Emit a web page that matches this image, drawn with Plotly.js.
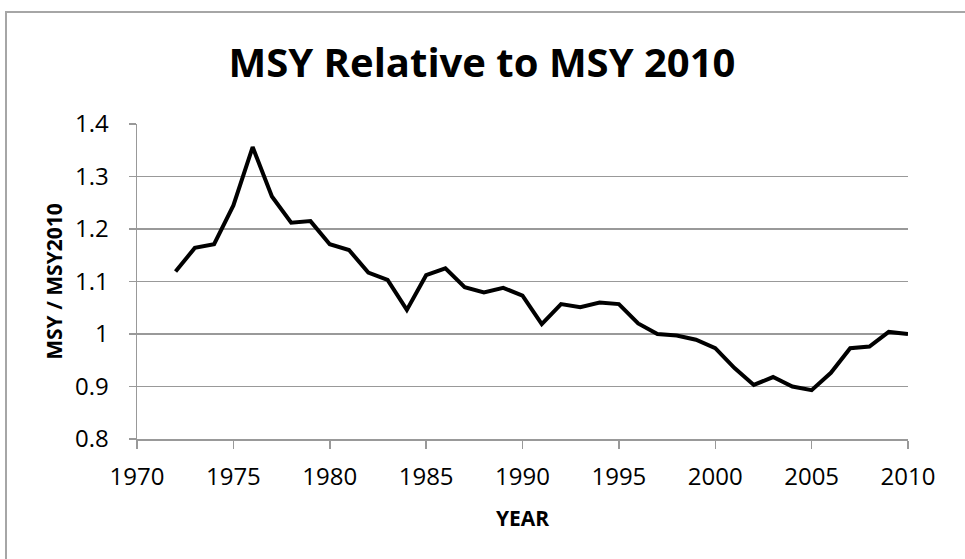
<!DOCTYPE html>
<html>
<head>
<meta charset="utf-8">
<script src="https://cdn.plot.ly/plotly-3.0.1.min.js"></script>
<style>
  html, body { margin: 0; padding: 0; background: #ffffff; overflow: hidden; }
  #chart { position: absolute; left: 0; top: 0; width: 965px; height: 559px; }
  #frame { position: absolute; left: 5px; top: 11px; width: 1200px; height: 800px;
           border-left: 2px solid #a6a6a6; border-top: 2px solid #a6a6a6; pointer-events: none; }
</style>
</head>
<body>
<div id="chart"></div>
<div id="frame"></div>
<script>
// Data
const years = [1972, 1973, 1974, 1975, 1976, 1977, 1978, 1979, 1980, 1981,
               1982, 1983, 1984, 1985, 1986, 1987, 1988, 1989, 1990, 1991,
               1992, 1993, 1994, 1995, 1996, 1997, 1998, 1999, 2000, 2001,
               2002, 2003, 2004, 2005, 2006, 2007, 2008, 2009, 2010];
const msyRatio = [1.119, 1.164, 1.171, 1.245, 1.356, 1.262, 1.212, 1.215, 1.171, 1.160,
                  1.117, 1.103, 1.046, 1.112, 1.125, 1.089, 1.079, 1.088, 1.073, 1.019,
                  1.057, 1.051, 1.060, 1.057, 1.020, 1.000, 0.997, 0.989, 0.973, 0.935,
                  0.903, 0.918, 0.900, 0.893, 0.926, 0.973, 0.976, 1.004, 1.000];
const xTicks = [1970, 1975, 1980, 1985, 1990, 1995, 2000, 2005, 2010];
const yTicks = [0.8, 0.9, 1.0, 1.1, 1.2, 1.3, 1.4];
const yTickText = ["0.8", "0.9", "1", "1.1", "1.2", "1.3", "1.4"];

const trace = {
  x: years,
  y: msyRatio,
  type: 'scatter',
  mode: 'lines',
  line: { color: '#000000', width: 4 },
  hoverinfo: 'x+y'
};

const layout = {
  width: 965,
  height: 559,
  margin: { l: 137, r: 57, t: 124, b: 120, pad: 0 },
  paper_bgcolor: 'rgba(0,0,0,0)',
  plot_bgcolor: '#ffffff',
  showlegend: false,
  font: { family: 'Open Sans, sans-serif', color: '#000000', size: 24 },
  title: {
    text: '<b>MSY Relative to MSY 2010</b>',
    font: { family: 'Open Sans, sans-serif', size: 40, color: '#000000' },
    x: 482 / 965, xref: 'container', xanchor: 'center',
    y: 1 - 63 / 559, yref: 'container', yanchor: 'middle'
  },
  xaxis: {
    range: [1970, 2010],
    tickvals: xTicks,
    ticktext: xTicks.map(String),
    ticks: 'outside', ticklen: 8, tickwidth: 1.5, tickcolor: '#999999',
    showline: true, linecolor: '#999999', linewidth: 1.5,
    showgrid: false, zeroline: false,
    tickfont: { family: 'Open Sans, sans-serif', size: 24, color: '#000000' },
    ticklabelstandoff: 8,
    title: {
      text: '<b>YEAR</b>',
      font: { family: 'Open Sans, sans-serif', size: 21, color: '#000000' },
      standoff: 20
    },
    automargin: false,
    fixedrange: true
  },
  yaxis: {
    range: [0.8, 1.4],
    tickvals: yTicks,
    ticktext: yTickText,
    ticks: 'outside', ticklen: 7, tickwidth: 1.5, tickcolor: '#999999',
    showline: true, linecolor: '#999999', linewidth: 1.5,
    showgrid: true, gridcolor: '#999999', gridwidth: 1.5,
    zeroline: false,
    tickfont: { family: 'Open Sans, sans-serif', size: 24, color: '#000000' },
    ticklabelstandoff: 15,
    title: {
      text: '<b>MSY / MSY2010</b>',
      font: { family: 'Open Sans, sans-serif', size: 21, color: '#000000' },
      standoff: 6
    },
    automargin: false,
    fixedrange: true
  }
};

Plotly.newPlot('chart', [trace], layout, { displayModeBar: false, staticPlot: true });
</script>
</body>
</html>
